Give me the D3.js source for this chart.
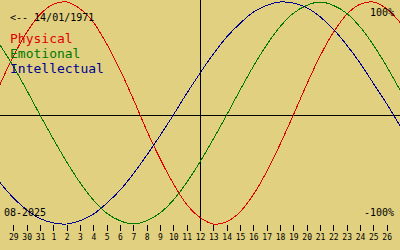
<!DOCTYPE html>
<html><head><meta charset="utf-8">
<script src="https://cdn.jsdelivr.net/npm/d3@7"></script>
<style>
html,body{margin:0;padding:0;background:#e0d080;}
svg{display:block;}
text{font-family:"DejaVu Sans Mono","Liberation Mono",monospace;}
</style></head>
<body>
<script>
// day labels: Jul 28 .. Aug 27 (first and last are off-axis edge samples)
const days = ["28","29","30","31","1","2","3","4","5","6","7","8","9","10","11","12","13","14","15","16","17","18","19","20","21","22","23","24","25","26","27"];
const tickDays = days.slice(1, 30);
const today = "12";
const physical = [0.27,0.52,0.73,0.89,0.98,1.00,0.94,0.82,0.63,0.40,0.14,-0.14,-0.40,-0.63,-0.82,-0.94,-1.00,-0.98,-0.89,-0.73,-0.52,-0.27,0.00,0.27,0.52,0.73,0.89,0.98,1.00,0.94,0.82];
const emotional = [0.62,0.43,0.22,0.00,-0.22,-0.43,-0.62,-0.78,-0.90,-0.97,-1.00,-0.97,-0.90,-0.78,-0.62,-0.43,-0.22,0.00,0.22,0.43,0.62,0.78,0.90,0.97,1.00,0.97,0.90,0.78,0.62,0.43,0.22];
const intellectual = [-0.62,-0.76,-0.87,-0.95,-0.99,-1.00,-0.97,-0.91,-0.81,-0.69,-0.54,-0.37,-0.19,0.00,0.19,0.37,0.54,0.69,0.81,0.91,0.97,1.00,0.99,0.95,0.87,0.76,0.62,0.46,0.28,0.10,-0.10];
const seriesNames = ["Physical","Emotional","Intellectual"];
const seriesColors = ["#e00000","#007800","#000090"];
const birthLabel = "<-- 14/01/1971";
const monthLabel = "08-2025";
const topLabel = "100%";
const bottomLabel = "-100%";

const W = 400, H = 250;
const svg = d3.select("body").append("svg").attr("width", W).attr("height", H);
svg.append("rect").attr("width", W).attr("height", H).attr("fill", "#e0d080");

const x = d3.scaleLinear().domain([0, days.length - 1]).range([0, W]);
const y = d3.scaleLinear().domain([-1, 0, 1]).range([224, 115, 2]);

// zero line
svg.append("line").attr("x1", 0).attr("x2", W)
  .attr("y1", Math.round(y(0)) + 0.5).attr("y2", Math.round(y(0)) + 0.5)
  .attr("stroke", "#000").attr("stroke-width", 1);

// today line
const ti = days.indexOf(today, 1);
svg.append("line").attr("x1", Math.round(x(ti)) + 0.5).attr("x2", Math.round(x(ti)) + 0.5)
  .attr("y1", 0).attr("y2", 231)
  .attr("stroke", "#000").attr("stroke-width", 1);

// axis
const axis = d3.axisBottom(x)
  .tickValues(tickDays.map((d, i) => i + 1))
  .tickFormat(i => days[i])
  .tickSize(6).tickPadding(3);
const g = svg.append("g").attr("transform", "translate(0,225)").call(axis);
g.select(".domain").remove();
g.selectAll(".tick line").attr("stroke", "#000").attr("shape-rendering", "crispEdges");
g.selectAll(".tick text").attr("font-family", "DejaVu Sans Mono").attr("font-size", 8).attr("fill", "#000");

// curves
const line = d3.line().x((d, i) => x(i)).y(d => y(d)).curve(d3.curveCatmullRom.alpha(0.5));
[physical, emotional, intellectual].forEach((s, k) => {
  svg.append("path").datum(s).attr("d", line).attr("fill", "none")
    .attr("stroke", seriesColors[k]).attr("stroke-width", 1)
    .attr("shape-rendering", "crispEdges");
});

// texts
svg.append("text").attr("x", 10).attr("y", 21).attr("font-size", 10).attr("fill", "#000").text(birthLabel);
seriesNames.forEach((n, k) => {
  svg.append("text").attr("x", 10).attr("y", 43 + k * 15).attr("font-size", 13)
    .attr("fill", seriesColors[k]).text(n);
});
svg.append("text").attr("x", 4).attr("y", 216).attr("font-size", 10).attr("fill", "#000").text(monthLabel);
svg.append("text").attr("x", 394).attr("y", 16).attr("font-size", 10).attr("text-anchor", "end").attr("fill", "#000").text(topLabel);
svg.append("text").attr("x", 394).attr("y", 216).attr("font-size", 10).attr("text-anchor", "end").attr("fill", "#000").text(bottomLabel);
</script>
</body></html>
